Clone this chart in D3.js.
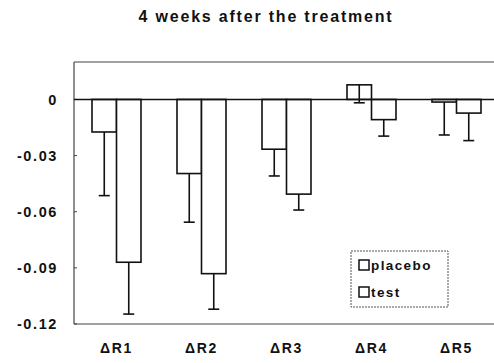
<!DOCTYPE html>
<html>
<head>
<meta charset="utf-8">
<script src="https://cdn.jsdelivr.net/npm/d3@7"></script>
<style>
  html, body { margin: 0; padding: 0; background: #fff; overflow: hidden; }
  svg { display: block; font-family: "Liberation Sans", Arial, sans-serif; }
</style>
</head>
<body>
<svg id="chart" width="494" height="363"></svg>
<script>
const title = "4 weeks after the treatment";
const categories = ["\u0394R1", "\u0394R2", "\u0394R3", "\u0394R4", "\u0394R5"];
const series = ["placebo", "test"];
const placeboValues = [-0.0174, -0.0396, -0.0266, 0.0078, -0.0014];
const placeboErrors = [0.034, 0.026, 0.0143, 0.0096, 0.0176];
const testValues = [-0.087, -0.0931, -0.0506, -0.0108, -0.0073];
const testErrors = [0.0277, 0.019, 0.0085, 0.0088, 0.0147];
const yTicks = [0, -0.03, -0.06, -0.09, -0.12];
const yTickLabels = ["0", "-0.03", "-0.06", "-0.09", "-0.12"];

const svg = d3.select("#chart");
const plot = { left: 74, right: 499, top: 62, bottom: 324 };

const y = d3.scaleLinear().domain([-0.12, 0.02]).range([plot.bottom, plot.top]);
const x0 = d3.scaleBand().domain(categories).range([plot.left, plot.right]).padding(0);
const x1 = d3.scaleBand().domain(series).range([0, x0.bandwidth()]).paddingInner(0).paddingOuter(0.735);

const data = categories.map((c, i) => ({
  cat: c,
  bars: [
    { s: "placebo", v: placeboValues[i], e: placeboErrors[i] },
    { s: "test", v: testValues[i], e: testErrors[i] }
  ]
}));

// Frame (top, left, bottom)
const frameColor = "#444";
svg.append("line").attr("x1", plot.left).attr("x2", plot.right).attr("y1", plot.top).attr("y2", plot.top)
  .attr("stroke", frameColor).attr("stroke-width", 1.2);
svg.append("line").attr("x1", plot.left).attr("x2", plot.right).attr("y1", plot.bottom).attr("y2", plot.bottom)
  .attr("stroke", frameColor).attr("stroke-width", 1.2);
svg.append("line").attr("x1", plot.left).attr("x2", plot.left).attr("y1", plot.top).attr("y2", plot.bottom)
  .attr("stroke", frameColor).attr("stroke-width", 1.2);

// Y ticks & labels
const yt = svg.append("g");
yTicks.forEach((t, i) => {
  yt.append("line").attr("x1", plot.left).attr("x2", plot.left + 3)
    .attr("y1", y(t)).attr("y2", y(t)).attr("stroke", frameColor).attr("stroke-width", 1);
  yt.append("text").attr("x", 58).attr("y", y(t)).attr("dy", "0.36em")
    .attr("text-anchor", "end").attr("font-size", 14.5).attr("font-weight", "bold")
    .attr("letter-spacing", 1.6).attr("fill", "#111").text(yTickLabels[i]);
});

// Bars
const groups = svg.append("g").selectAll("g").data(data).join("g")
  .attr("transform", d => `translate(${x0(d.cat)},0)`);

groups.selectAll("rect").data(d => d.bars).join("rect")
  .attr("x", d => x1(d.s))
  .attr("width", x1.bandwidth())
  .attr("y", d => y(Math.max(0, d.v)))
  .attr("height", d => Math.abs(y(d.v) - y(0)))
  .attr("fill", "#fff").attr("stroke", "#111").attr("stroke-width", 1.6);

// Error bars (drawn downward)
groups.selectAll("g.err").data(d => d.bars).join("g").attr("class", "err").each(function(d) {
  const g = d3.select(this);
  const cx = x1(d.s) + x1.bandwidth() / 2;
  g.append("line").attr("x1", cx).attr("x2", cx).attr("y1", y(d.v)).attr("y2", y(d.v - d.e))
    .attr("stroke", "#111").attr("stroke-width", 1.6);
  g.append("line").attr("x1", cx - 5.5).attr("x2", cx + 5.5).attr("y1", y(d.v - d.e)).attr("y2", y(d.v - d.e))
    .attr("stroke", "#111").attr("stroke-width", 1.6);
});

// Zero line
svg.append("line").attr("x1", plot.left).attr("x2", plot.right).attr("y1", y(0)).attr("y2", y(0))
  .attr("stroke", "#111").attr("stroke-width", 1.6);

// X labels
svg.append("g").selectAll("text").data(categories).join("text")
  .attr("x", d => x0(d) + x0.bandwidth() / 2)
  .attr("y", 353).attr("text-anchor", "middle")
  .attr("font-size", 14).attr("font-weight", "bold").attr("letter-spacing", 1.6)
  .attr("fill", "#111").text(d => d);

// Title
svg.append("text").attr("x", 266).attr("y", 22).attr("text-anchor", "middle")
  .attr("font-size", 16).attr("font-weight", "bold").attr("letter-spacing", 1.8)
  .attr("fill", "#111").text(title);

// Legend
const lg = svg.append("g").attr("transform", "translate(351,251)");
lg.append("rect").attr("width", 97).attr("height", 56).attr("fill", "#fff")
  .attr("stroke", "#555").attr("stroke-width", 1).attr("stroke-dasharray", "2,1");
series.forEach((s, i) => {
  const cy = 14 + i * 27;
  lg.append("rect").attr("x", 8).attr("y", cy - 5).attr("width", 10).attr("height", 10)
    .attr("fill", "#fff").attr("stroke", "#111").attr("stroke-width", 1.5);
  lg.append("text").attr("x", 20).attr("y", cy).attr("dy", "0.36em")
    .attr("font-size", 13.5).attr("font-weight", "bold").attr("letter-spacing", 1.4)
    .attr("fill", "#111").text(s);
});
</script>
</body>
</html>
